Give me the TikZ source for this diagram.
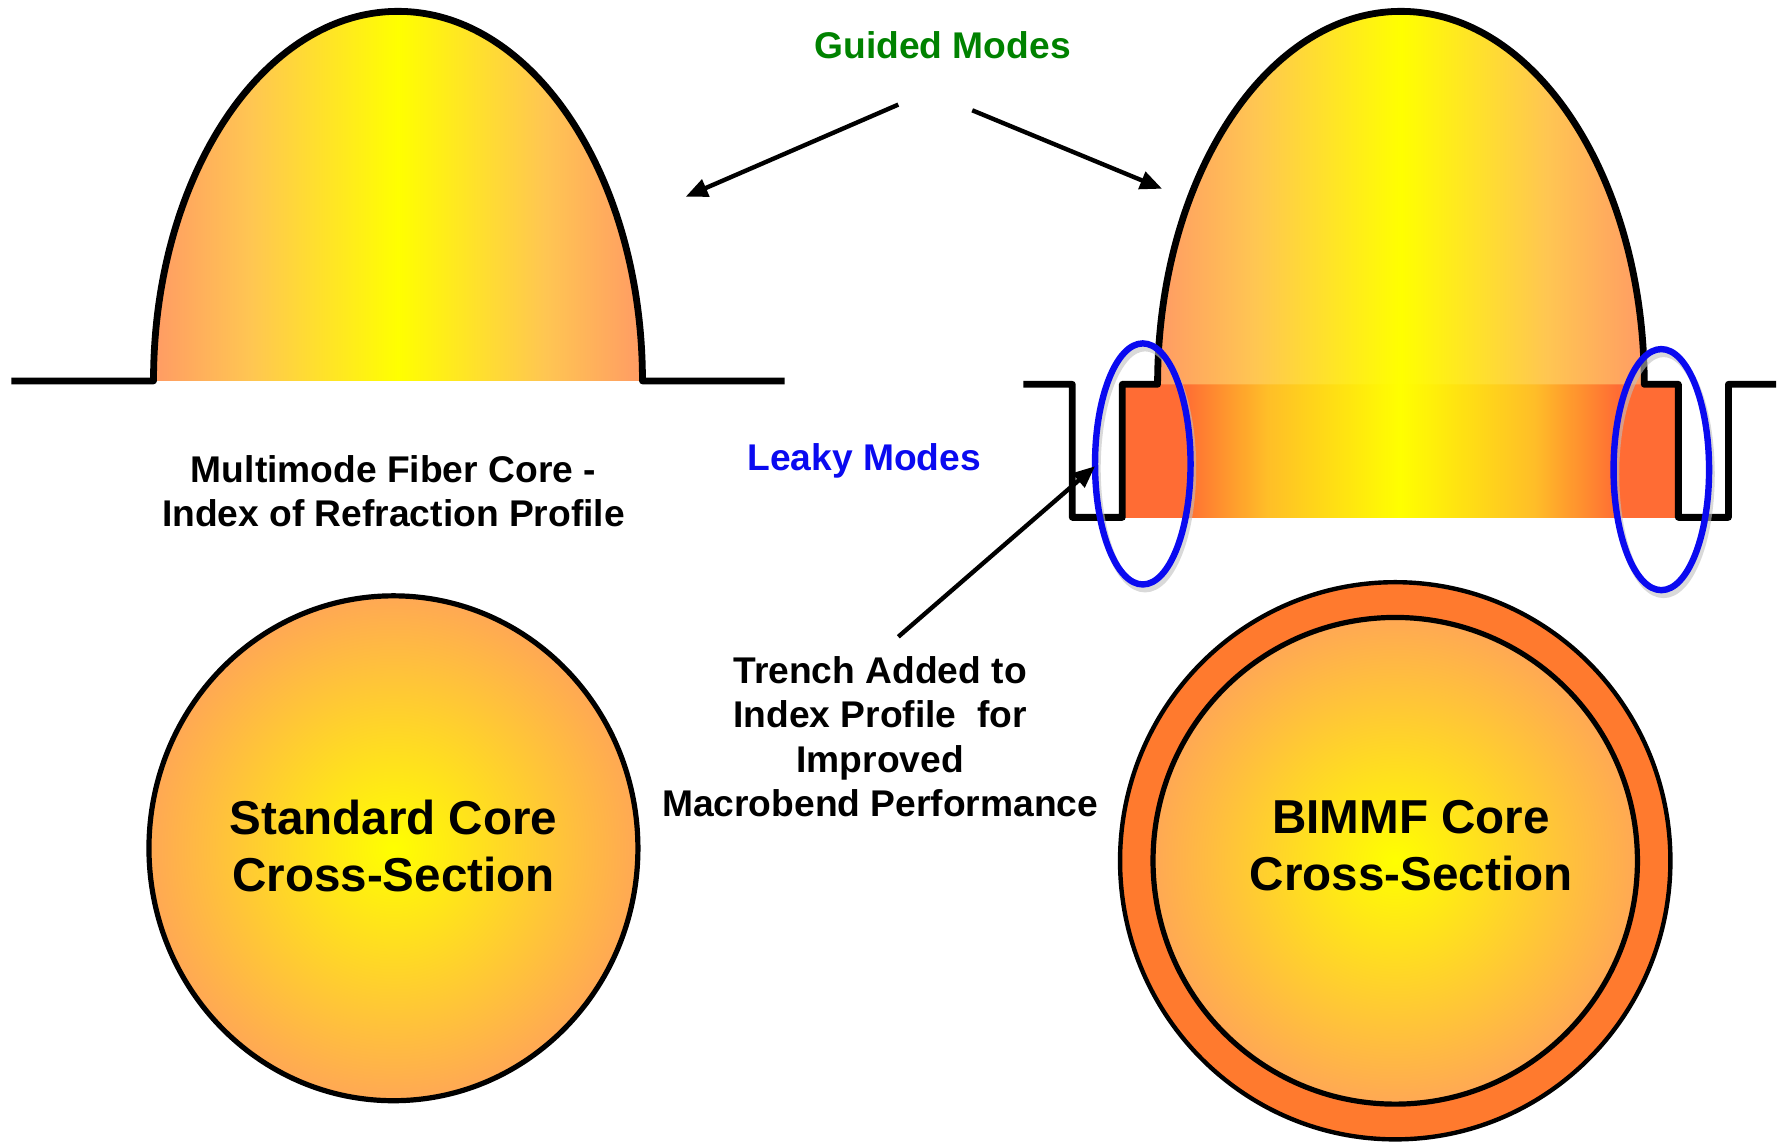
\documentclass[tikz,border=0pt]{standalone}
\usepackage{fontspec}
\setmainfont{Liberation Sans}
\usetikzlibrary{arrows.meta}

\definecolor{salmon}{RGB}{255,155,100}
\definecolor{paleorange}{RGB}{255,198,82}
\definecolor{trenchred}{RGB}{255,108,52}
\definecolor{amber}{RGB}{255,190,40}
\definecolor{coreorange}{RGB}{255,168,84}
\definecolor{cladorange}{RGB}{255,122,46}
\definecolor{modegreen}{RGB}{0,130,0}
\definecolor{modeblue}{RGB}{10,10,240}

% graded-index core and trench colouring
\pgfdeclarehorizontalshading{profile}{100bp}{color(0bp)=(salmon); color(25bp)=(salmon);
  color(35bp)=(paleorange); color(50bp)=(yellow); color(65bp)=(paleorange);
  color(75bp)=(salmon); color(100bp)=(salmon)}
\pgfdeclarehorizontalshading{trench}{100bp}{color(0bp)=(trenchred); color(25bp)=(trenchred);
  color(30.5bp)=(trenchred); color(38bp)=(amber); color(50bp)=(yellow); color(62bp)=(amber);
  color(69.5bp)=(trenchred); color(75bp)=(trenchred); color(100bp)=(trenchred)}

\tikzset{
  index/.style={line width=1.7pt, line join=round},
  ring/.style={draw=black, line width=1.3pt},
  leak/.style={draw=modeblue, line width=1.6pt},
  pointer/.style={line width=1.1pt, -{Triangle[length=5.5pt,width=4.5pt]}},
  captxt/.style={font=\bfseries\fontsize{9.3}{11.1}\selectfont, align=center, inner sep=0pt},
  bigtxt/.style={font=\bfseries\fontsize{11.9}{14.2}\selectfont, align=center, inner sep=0pt}
}

\begin{document}
\begin{tikzpicture}[x=0.01cm, y=0.01cm]
    \useasboundingbox (0,0) rectangle (1568,1006);

    % standard multimode profile
    \shade[shading=profile] (135,671) arc[start angle=180, end angle=0, x radius=215, y radius=325] -- cycle;
    \draw[index] (10,671) -- (135,671) arc[start angle=180, end angle=0, x radius=215, y radius=325] -- (690,671);

    % profile with trench
    \shade[shading=trench] (987,551) rectangle (1476,668);
    \shade[shading=profile] (1018,668) arc[start angle=180, end angle=0, x radius=214, y radius=328] -- cycle;
    \draw[index] (900,668) -- (943,668) -- (943,551) -- (987,551) -- (987,668) -- (1018,668)
        arc[start angle=180, end angle=0, x radius=214, y radius=328]
        -- (1476,668) -- (1476,551) -- (1520,551) -- (1520,668) -- (1562,668);

    \foreach \cx/\cy in {1005/598, 1461/593} {
        \draw[black!25, line width=1.7pt, opacity=0.6] (\cx+2,\cy-4) ellipse[x radius=42, y radius=106];
        \draw[leak] (\cx,\cy) ellipse[x radius=42, y radius=106];
    }

    % cross-sections
    \shade[ring, inner color=yellow, outer color=coreorange] (346,260) ellipse[x radius=215, y radius=222];
    \draw[ring, line width=1.1pt, fill=cladorange] (1227,249) ellipse[x radius=242, y radius=245];
    \shade[ring, inner color=yellow, outer color=coreorange] (1227,249) ellipse[x radius=213, y radius=214];

    \node[captxt, text=modegreen] (guided) at (829,966) {Guided Modes};
    \node[captxt, text=modeblue] (leaky) at (760,601) {Leaky Modes};
    \node[captxt] (mmf) at (346,574) {Multimode Fiber Core -\\Index of Refraction Profile};
    \node[captxt] (trench) at (774,358) {Trench Added to\\Index Profile\ \ for\\Improved\\Macrobend Performance};
    \node[bigtxt] (stdcore) at (346,262) {Standard Core\\Cross-Section};
    \node[bigtxt] (bimmf) at (1241,262) {BIMMF Core\\Cross-Section};

    \coordinate (g1) at (790,914);
    \coordinate (g2) at (855,909);
    \coordinate (t1) at (790,446);
    \coordinate (ltip) at (603,833);
    \coordinate (rtip) at (1022,840);
    \coordinate (ttip) at (963,596);

    \draw[pointer] (g1) -- (ltip);
    \draw[pointer] (g2) -- (rtip);
    \draw[pointer] (t1) -- (ttip);

\end{tikzpicture}
\end{document}
